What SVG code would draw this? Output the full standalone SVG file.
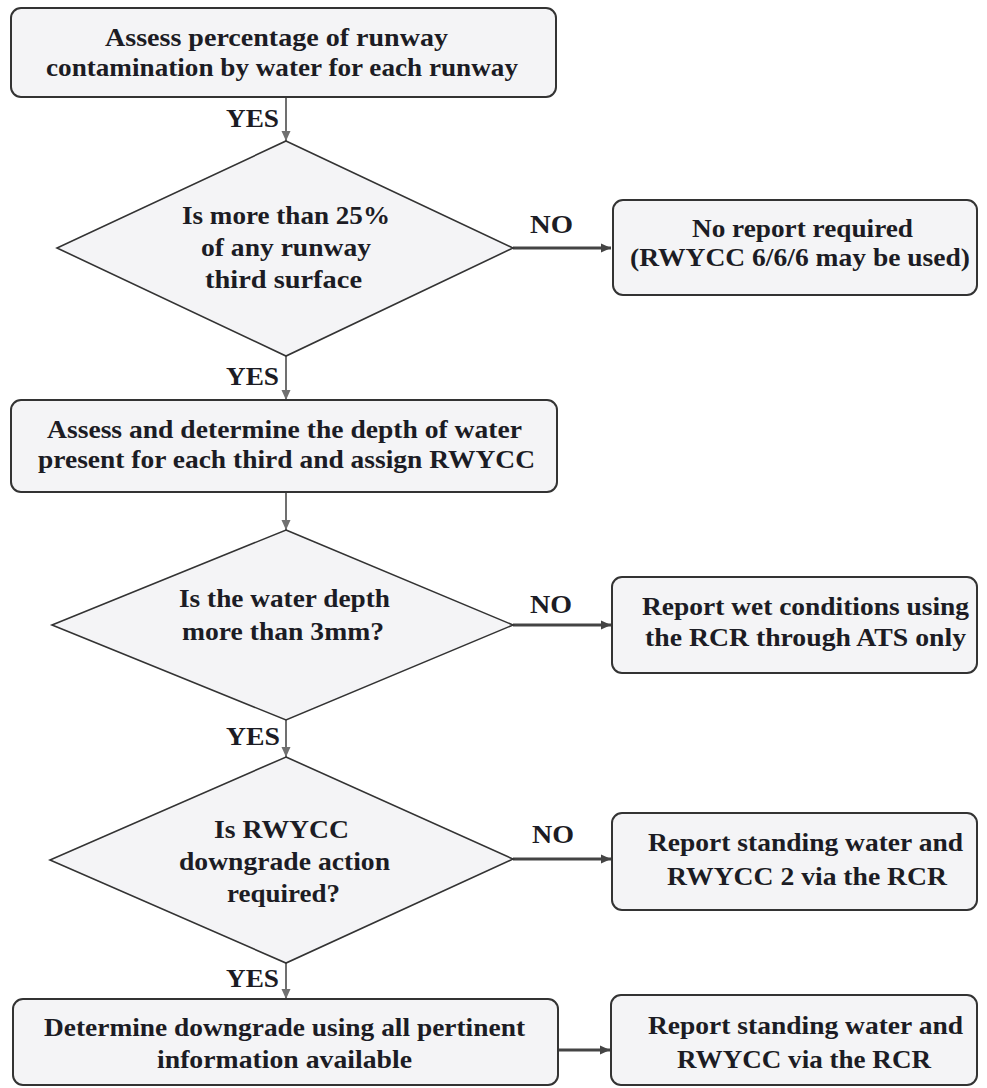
<svg xmlns="http://www.w3.org/2000/svg" width="987" height="1088" viewBox="0 0 987 1088" font-family="Liberation Serif, Tinos, Times New Roman, DejaVu Serif, serif">
<style>
.box{fill:#f4f4f6;stroke:#333;stroke-width:2}
.dia{fill:#f4f4f6;stroke:#333;stroke-width:1.6}
text{font-family:"Liberation Serif","Tinos","Times New Roman","DejaVu Serif",serif;font-weight:bold;fill:#1c1c24}
.t{font-size:26px}
.lbl{font-size:26px}
.v{stroke:#707070;stroke-width:2;fill:none;marker-end:url(#ah)}
.h{stroke:#444;stroke-width:3;fill:none;marker-end:url(#ah2)}
</style>
<defs>
<marker id="ah" markerWidth="12" markerHeight="12" refX="10" refY="5" orient="auto" markerUnits="userSpaceOnUse">
<path d="M0,0.5 L10,5 L0,9.5 Z" fill="#707070"/>
</marker>
<marker id="ah2" markerWidth="12" markerHeight="12" refX="10" refY="5" orient="auto" markerUnits="userSpaceOnUse">
<path d="M0,0.5 L10,5 L0,9.5 Z" fill="#444"/>
</marker>
</defs>
<rect width="987" height="1088" fill="#ffffff"/>
<g id="connectors">
<line class="v" x1="286" y1="97" x2="286" y2="141"/>
<line class="h" x1="513" y1="248" x2="611" y2="248"/>
<line class="v" x1="286" y1="356" x2="286" y2="400"/>
<line class="v" x1="286" y1="492" x2="286" y2="530"/>
<line class="h" x1="513" y1="625" x2="611" y2="625"/>
<line class="v" x1="286" y1="720" x2="286" y2="757"/>
<line class="h" x1="513" y1="859" x2="611" y2="859"/>
<line class="v" x1="286" y1="963" x2="286" y2="999"/>
<line class="h" x1="558" y1="1050" x2="610" y2="1050"/>
<text class="lbl" x="226" y="127" textLength="53" lengthAdjust="spacingAndGlyphs">YES</text>
<text class="lbl" x="530" y="233" textLength="43" lengthAdjust="spacingAndGlyphs">NO</text>
<text class="lbl" x="226" y="385" textLength="53" lengthAdjust="spacingAndGlyphs">YES</text>
<text class="lbl" x="530" y="613" textLength="42" lengthAdjust="spacingAndGlyphs">NO</text>
<text class="lbl" x="226" y="745" textLength="54" lengthAdjust="spacingAndGlyphs">YES</text>
<text class="lbl" x="532" y="843" textLength="42" lengthAdjust="spacingAndGlyphs">NO</text>
<text class="lbl" x="226" y="987" textLength="53" lengthAdjust="spacingAndGlyphs">YES</text>
</g>
<g id="n1">
<rect class="box" x="11" y="8" width="545" height="89" rx="10"/>
<text class="t" x="105" y="46" textLength="343" lengthAdjust="spacingAndGlyphs">Assess percentage of runway</text>
<text class="t" x="46" y="76" textLength="472" lengthAdjust="spacingAndGlyphs">contamination by water for each runway</text>
</g>
<g id="d1">
<polygon class="dia" points="286,141 513,248 286,356 57,248"/>
<text class="t" x="182" y="224" textLength="208" lengthAdjust="spacingAndGlyphs">Is more than 25%</text>
<text class="t" x="201" y="256" textLength="170" lengthAdjust="spacingAndGlyphs">of any runway</text>
<text class="t" x="205" y="288" textLength="157" lengthAdjust="spacingAndGlyphs">third surface</text>
</g>
<g id="n2">
<rect class="box" x="613" y="200" width="364" height="95" rx="10"/>
<text class="t" x="692" y="237" textLength="221" lengthAdjust="spacingAndGlyphs">No report required</text>
<text class="t" x="630" y="266" textLength="340" lengthAdjust="spacingAndGlyphs">(RWYCC 6/6/6 may be used)</text>
</g>
<g id="n3">
<rect class="box" x="11" y="400" width="546" height="92" rx="10"/>
<text class="t" x="47" y="438" textLength="475" lengthAdjust="spacingAndGlyphs">Assess and determine the depth of water</text>
<text class="t" x="38" y="468" textLength="497" lengthAdjust="spacingAndGlyphs">present for each third and assign RWYCC</text>
</g>
<g id="d2">
<polygon class="dia" points="286,530 513,625 286,720 52,625"/>
<text class="t" x="179" y="607" textLength="211" lengthAdjust="spacingAndGlyphs">Is the water depth</text>
<text class="t" x="182" y="640" textLength="202" lengthAdjust="spacingAndGlyphs">more than 3mm?</text>
</g>
<g id="n4">
<rect class="box" x="612" y="577" width="365" height="96" rx="10"/>
<text class="t" x="642" y="615" textLength="327" lengthAdjust="spacingAndGlyphs">Report wet conditions using</text>
<text class="t" x="645" y="646" textLength="321" lengthAdjust="spacingAndGlyphs">the RCR through ATS only</text>
</g>
<g id="d3">
<polygon class="dia" points="286,757 513,859 286,963 50,860"/>
<text class="t" x="214" y="838" textLength="135" lengthAdjust="spacingAndGlyphs">Is RWYCC</text>
<text class="t" x="179" y="870" textLength="211" lengthAdjust="spacingAndGlyphs">downgrade action</text>
<text class="t" x="227" y="902" textLength="113" lengthAdjust="spacingAndGlyphs">required?</text>
</g>
<g id="n5">
<rect class="box" x="612" y="813" width="365" height="97" rx="10"/>
<text class="t" x="648" y="851" textLength="315" lengthAdjust="spacingAndGlyphs">Report standing water and</text>
<text class="t" x="667" y="885" textLength="280" lengthAdjust="spacingAndGlyphs">RWYCC 2 via the RCR</text>
</g>
<g id="n6">
<rect class="box" x="13" y="999" width="545" height="86" rx="10"/>
<text class="t" x="44" y="1036" textLength="481" lengthAdjust="spacingAndGlyphs">Determine downgrade using all pertinent</text>
<text class="t" x="157" y="1068" textLength="255" lengthAdjust="spacingAndGlyphs">information available</text>
</g>
<g id="n7">
<rect class="box" x="611" y="995" width="366" height="90" rx="10"/>
<text class="t" x="648" y="1034" textLength="315" lengthAdjust="spacingAndGlyphs">Report standing water and</text>
<text class="t" x="677" y="1068" textLength="254" lengthAdjust="spacingAndGlyphs">RWYCC via the RCR</text>
</g>
</svg>
